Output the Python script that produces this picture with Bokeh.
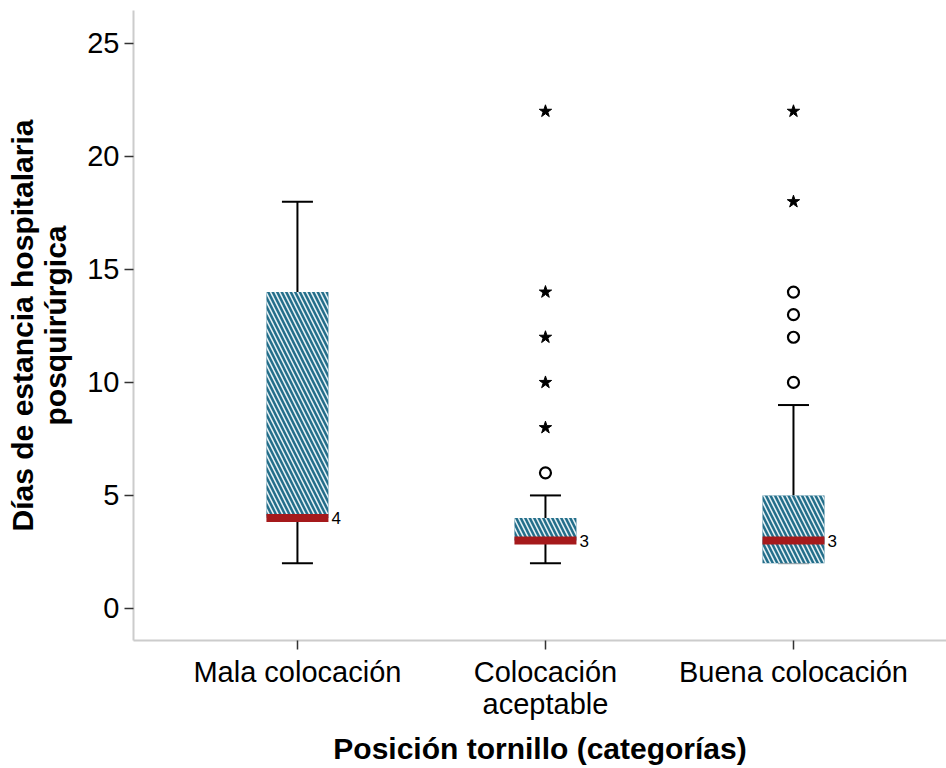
from bokeh.plotting import figure
from bokeh.models import Range1d, FixedTicker, ColumnDataSource
from bokeh.embed import file_html
from bokeh.resources import INLINE
from bokeh.core.properties import value

# ---- data ----
categories = ["Mala colocación", "Colocación\naceptable", "Buena colocación"]
xpos = [1, 2, 3]
q1 = [4, 3, 2]
medians = [4, 3, 3]
q3 = [14, 4, 5]
whisker_low = [2, 2, 2]
whisker_high = [18, 5, 9]
circle_cat = [2, 3, 3, 3, 3]
circle_val = [6, 10, 12, 13, 14]
star_cat = [2, 2, 2, 2, 2, 3, 3]
star_val = [8, 10, 12, 14, 22, 18, 22]
y_ticks = [0, 5, 10, 15, 20, 25]

TEAL = "#236e8a"
RED = "#a5191b"
FONT = "Liberation Sans"

p = figure(width=946, height=768, output_backend="svg", toolbar_location=None,
           x_range=Range1d(0.339, 3.617), y_range=Range1d(-1.42, 26.46),
           min_border_left=133, min_border_top=10, min_border_right=0, min_border_bottom=128)
p.outline_line_color = None
p.grid.visible = False
p.background_fill_color = "white"
p.border_fill_color = "white"

BW = 0.25
CW = 0.125
low_cap_colors = ["black", "black", "#aaaaaa"]
src = ColumnDataSource(dict(x=xpos, q1=q1, q3=q3, med=medians, lo=whisker_low, hi=whisker_high,
                            lbl=[str(m) for m in medians], lcc=low_cap_colors,
                            cl=[x - CW / 2 for x in xpos], cr=[x + CW / 2 for x in xpos],
                            bl=[x - BW / 2 for x in xpos], br=[x + BW / 2 for x in xpos]))

# whiskers
p.segment(x0="x", y0="q3", x1="x", y1="hi", source=src, line_color="black", line_width=2)
p.segment(x0="x", y0="lo", x1="x", y1="q1", source=src, line_color="black", line_width=2)
p.segment(x0="cl", y0="hi", x1="cr", y1="hi", source=src, line_color="black", line_width=2)
p.segment(x0="cl", y0="lo", x1="cr", y1="lo", source=src, line_color="lcc", line_width=2)
# boxes
p.vbar(x="x", width=BW, top="q3", bottom="q1", source=src, fill_color=TEAL, line_color=None,
       hatch_pattern="\\", hatch_color="#e3eff3", hatch_scale=9, hatch_weight=1.6)
# medians
p.segment(x0="bl", y0="med", x1="br", y1="med", source=src, line_color=RED, line_width=8)
p.text(x="br", y="med", text="lbl", source=src, x_offset=3, text_font=value(FONT),
       text_font_size="17px", text_baseline="middle", text_align="left", text_color="black")
# outliers
p.scatter(circle_cat, circle_val, marker="circle", size=11, fill_color="white",
          line_color="black", line_width=2.2)
p.scatter(star_cat, star_val, marker="star", size=13, fill_color="black", line_color="black")

# axes
p.xaxis.ticker = FixedTicker(ticks=xpos)
p.xaxis.major_label_overrides = {x: c for x, c in zip(xpos, categories)}
p.yaxis.ticker = FixedTicker(ticks=y_ticks)
p.xaxis.minor_tick_line_color = None
p.yaxis.minor_tick_line_color = None
for ax in (p.xaxis, p.yaxis):
    ax.axis_line_color = "#cccccc"
    ax.axis_line_width = 2
    ax.major_tick_line_color = "#333333"
    ax.major_tick_line_width = 1.5
    ax.major_tick_out = 9
    ax.major_tick_in = 0
    ax.major_label_text_font = FONT
    ax.major_label_text_font_size = "29px"
    ax.major_label_text_color = "black"
    ax.axis_label_text_font = FONT
    ax.axis_label_text_font_size = "30px"
    ax.axis_label_text_font_style = "bold"
    ax.axis_label_text_color = "black"

p.xaxis.major_label_text_line_height = 1.0
p.yaxis.axis_label_text_line_height = 1.0
p.yaxis.axis_label = "Días de estancia hospitalaria\nposquirúrgica"
p.xaxis.axis_label = "Posición tornillo (categorías)"
p.yaxis.major_label_standoff = 5
p.xaxis.major_label_standoff = 6
p.yaxis.axis_label_standoff = 12
p.xaxis.axis_label_standoff = 9

open("out.html", "w").write(file_html(p, INLINE))
